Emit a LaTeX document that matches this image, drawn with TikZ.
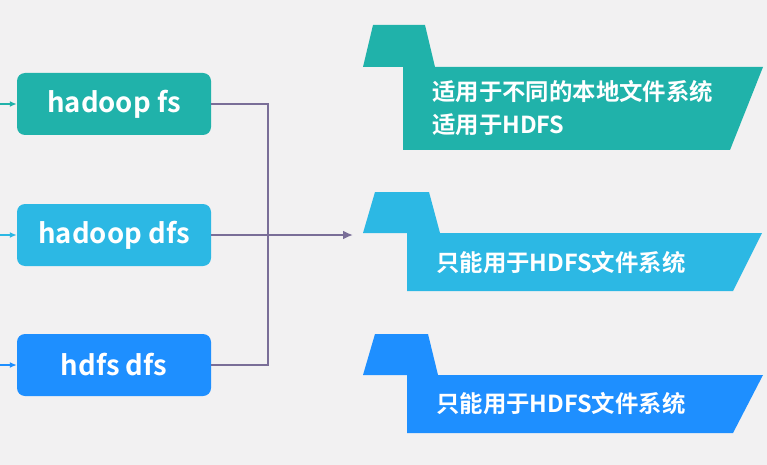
\documentclass[tikz,border=0pt]{standalone}
\usepackage{fontspec}
\setmainfont{Noto Sans CJK SC}[BoldFont={Noto Sans CJK SC Bold}]
\usetikzlibrary{arrows.meta}
\definecolor{bg}{HTML}{F2F1F2}
\definecolor{cA}{HTML}{20B2AA}
\definecolor{cB}{HTML}{2CB8E4}
\definecolor{cC}{HTML}{1E8FFF}
\definecolor{link}{HTML}{7A6E98}
\tikzset{
  cmd/.style={rounded corners=8pt, minimum width=194pt, minimum height=62pt, inner sep=0pt, text=white, font=\fontsize{27.5}{30}\selectfont\bfseries},
  feed/.style={line width=1.8pt, -{Latex[length=7pt,width=6pt]}},
  link/.style={draw=link, line width=2.7pt},
  banner/.style={text=white, font=\fontsize{23.4}{33}\selectfont\bfseries, align=left, anchor=west, inner sep=0pt},
}
\begin{document}
\begin{tikzpicture}[x=1pt,y=-1pt]
\fill[bg] (0,0) rectangle (767,465);
\useasboundingbox (0,0) rectangle (767,465);
% left command boxes
\node[cmd, fill=cA] (b1) at (114,104) {hadoop fs};
\node[cmd, fill=cB] (b2) at (114,235) {hadoop dfs};
\node[cmd, fill=cC] (b3) at (114,365) {hdfs dfs};
\coordinate (s1) at (0,104);
\coordinate (s2) at (0,235);
\coordinate (s3) at (0,365);
\draw[feed, cA] (s1) -- (b1.west);
\draw[feed, cB] (s2) -- (b2.west);
\draw[feed, cC] (s3) -- (b3.west);
% connectors
\coordinate (j) at (268,235);
\coordinate (t) at (353,235);
\draw[link] (b1.east) -| (j) |- (b3.east);
\draw[link, -{Latex[length=10pt,width=9pt]}] (b2.east) -- (t);
% banners
\fill[cA] (373,25) -- (425,25) -- (435,67) -- (763,67) -- (730,150) -- (403,150) -- (403,67) -- (363,67) -- cycle;
\fill[cB] (375,192) -- (429,192) -- (440,233) -- (762,233) -- (733,291) -- (407,291) -- (407,233) -- (363,233) -- cycle;
\fill[cC] (375,334) -- (428,334) -- (438,375) -- (763,375) -- (733,433) -- (407,433) -- (407,375) -- (363,375) -- cycle;
\node[banner] (r1) at (432,108) {适用于不同的本地文件系统\\适用于HDFS};
\node[banner] (r2) at (436,263) {只能用于HDFS文件系统};
\node[banner] (r3) at (436,404) {只能用于HDFS文件系统};
\end{tikzpicture}
\end{document}
